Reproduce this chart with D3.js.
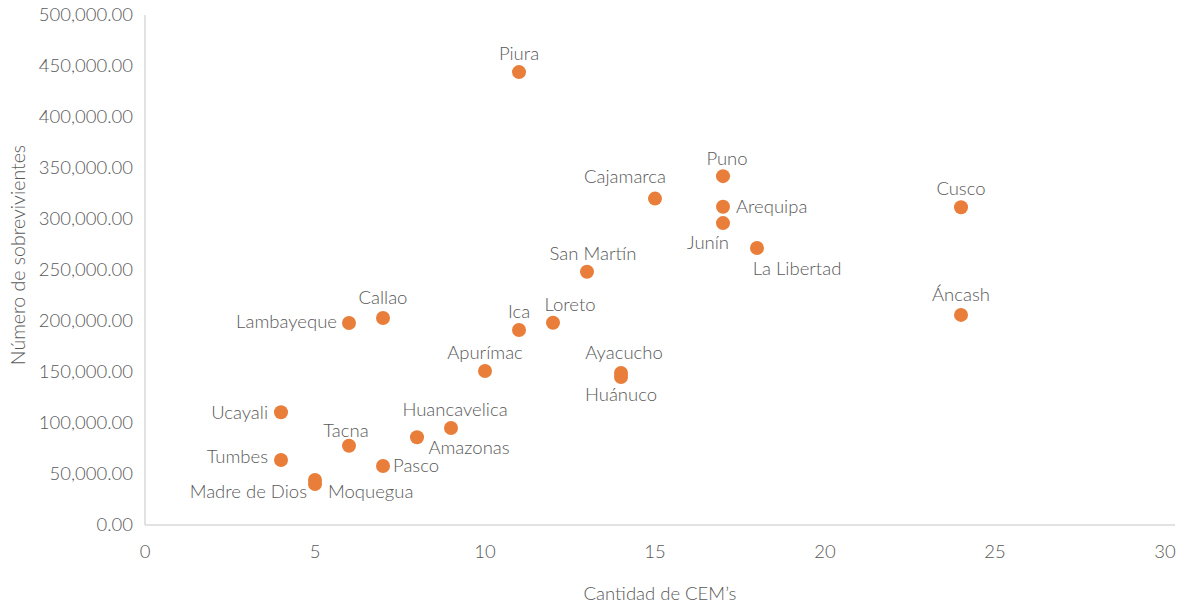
<!DOCTYPE html>
<html><head><meta charset="utf-8">
<script src="https://cdn.jsdelivr.net/npm/d3@7"></script>
<style>
body{margin:0;background:#fff;}
text{font-family:Lato, "Noto Sans", sans-serif;font-weight:300;fill:#595959;}
</style></head>
<body><svg id="c" width="1188" height="607"></svg>
<script>
const regions = ["Piura","Puno","Cajamarca","Arequipa","Cusco","Junín","La Libertad","San Martín","Áncash","Callao","Lambayeque","Loreto","Ica","Apurímac","Ayacucho","Huánuco","Ucayali","Huancavelica","Amazonas","Tacna","Tumbes","Pasco","Madre de Dios","Moquegua"];
const cems = [11,17,15,17,24,17,18,13,24,7,6,12,11,10,14,14,4,9,8,6,4,7,5,5];
const survivors = [444000,342000,320000,312000,311500,296000,271500,248300,206000,203000,198000,198300,191200,151000,149000,145100,110500,95100,86000,77700,63700,57800,44100,40200];
const xTicks = [0,5,10,15,20,25,30];
const yTicks = [0,50000,100000,150000,200000,250000,300000,350000,400000,450000,500000];

// label placement (style): [dx, dy, anchor]
const labelPlacement = [
  [0,-19,"middle"],[4,-18,"middle"],[-30,-22,"middle"],[13,0,"start"],[0,-19,"middle"],
  [-15,19,"middle"],[40,20,"middle"],[6,-18,"middle"],[0,-20,"middle"],[0,-20,"middle"],
  [-12,-2,"end"],[17,-18,"middle"],[0,-18,"middle"],[0,-18,"middle"],[3,-20,"middle"],
  [0,18,"middle"],[-13,0,"end"],[4,-18,"middle"],[52,10,"middle"],[-3,-15,"middle"],
  [-13,-4,"end"],[10,-1,"start"],[-8,12,"end"],[13,8,"start"]
];

const FS = 18.5;
const svg = d3.select("#c");
const x = d3.scaleLinear().domain([0,30]).range([145,1165]);
const y = d3.scaleLinear().domain([0,500000]).range([525,15]);
const fmt = d3.format(",.2f");

svg.append("line").attr("x1",145).attr("x2",145).attr("y1",15).attr("y2",525).attr("stroke","#d9d9d9").attr("stroke-width",1.5);
svg.append("line").attr("x1",145).attr("x2",1175).attr("y1",525).attr("y2",525).attr("stroke","#d9d9d9").attr("stroke-width",1.5);

svg.selectAll(".yt").data(yTicks).join("text").attr("x",133).attr("y",d=>y(d)).attr("dy","0.35em")
  .attr("text-anchor","end").attr("font-size",FS).text(d=>fmt(d));
svg.selectAll(".xt").data(xTicks).join("text").attr("x",d=>x(d)).attr("y",552).attr("dy","0.35em")
  .attr("text-anchor","middle").attr("font-size",FS).text(d=>d);

svg.append("text").attr("x",660).attr("y",594).attr("dy","0.35em").attr("text-anchor","middle").attr("font-size",FS).text("Cantidad de CEM’s");
svg.append("text").attr("transform","translate(18,255) rotate(-90)").attr("dy","0.35em").attr("text-anchor","middle").attr("font-size",19.5).text("Número de sobrevivientes");

const data = regions.map((r,i)=>({r, x:cems[i], y:survivors[i], p:labelPlacement[i]}));
svg.selectAll(".pt").data(data).join("circle").attr("cx",d=>x(d.x)).attr("cy",d=>y(d.y)).attr("r",7).attr("fill","#E97E3B");

svg.selectAll(".lb").data(data).join("text")
  .attr("x",d=>x(d.x)+d.p[0]).attr("y",d=>y(d.y)+d.p[1]).attr("dy","0.35em")
  .attr("text-anchor",d=>d.p[2]).attr("font-size",FS).text(d=>d.r);
</script></body></html>
